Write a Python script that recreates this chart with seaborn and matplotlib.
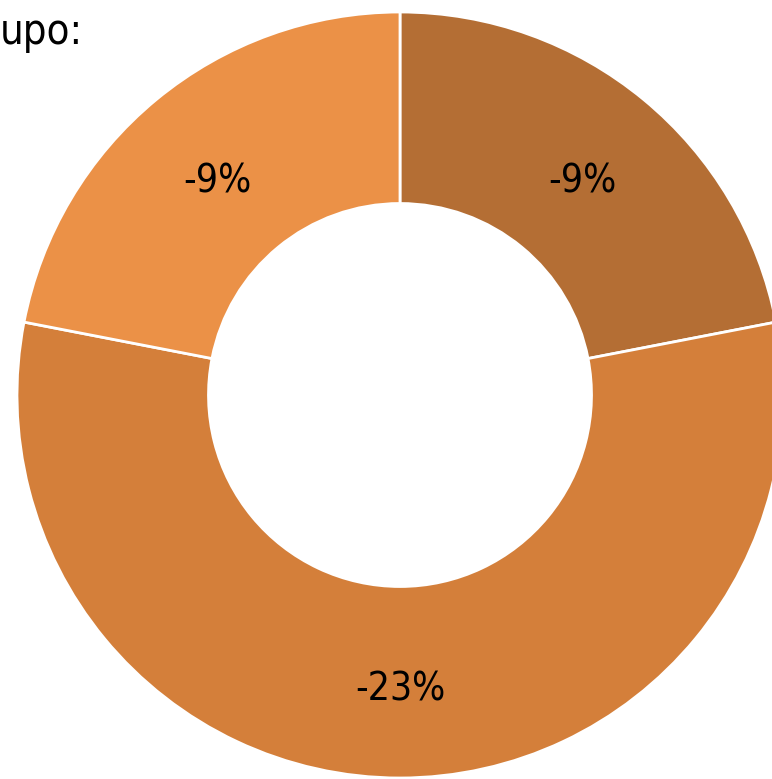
import matplotlib
matplotlib.use("Agg")
import matplotlib.pyplot as plt
import seaborn as sns

# Data (clockwise from 12 o'clock)
labels = ["-9%", "-23%", "-9%"]
values = [9, 23, 9]
colors = ["#B46E34", "#D47F3A", "#EB9147"]

sns.set_theme(style="white")
plt.rcParams['font.family'] = ['DejaVu Sans']
plt.rcParams['font.stretch'] = 'condensed'

W, H = 772, 779
fig = plt.figure(figsize=(W / 100, H / 100), dpi=100)
ax = fig.add_axes([0, 0, 1, 1])

wedges, texts = ax.pie(
    values,
    startangle=90,
    counterclock=False,
    colors=colors,
    radius=1.0,
    labels=labels,
    labeldistance=0.75,
    wedgeprops=dict(width=0.5, edgecolor="white", linewidth=2),
    textprops=dict(fontsize=28, color="black", stretch="condensed"),
)
for t in texts:
    t.set_ha("center")
    t.set_va("center")
    x, y = t.get_position()
    t.set_position((x, y - 0.02))

# place donut centre at pixel (400, 395) with radius 383 px
cx, cy, r = 400, 395, 383
ax.set_xlim(-cx / r, (W - cx) / r)
ax.set_ylim(-(H - cy) / r, cy / r)
ax.set_aspect("auto")
ax.axis("off")

# title is cut off at the left edge in the reference; only the visible part is shown
fig.text(0, 1 - 32 / H, "upo:", ha="left", va="center", fontsize=30,
         color="black", stretch="condensed", fontweight="light")

fig.savefig("out.png", dpi=100)
